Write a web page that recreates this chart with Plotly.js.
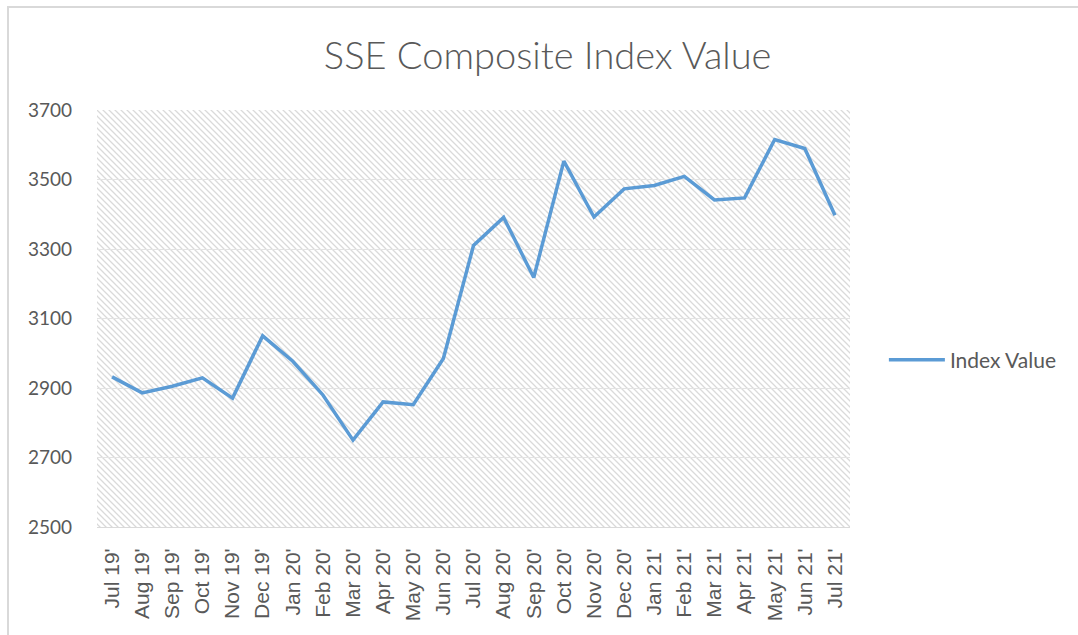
<!DOCTYPE html>
<html>
<head>
<meta charset="utf-8">
<script src="https://cdn.plot.ly/plotly-3.0.1.min.js"></script>
<style>
  html, body { margin: 0; padding: 0; background: #ffffff; }
  #wrap { position: relative; width: 1078px; height: 635px; overflow: hidden; }
  #frame { position: absolute; left: 7px; top: 6px; width: 1100px; height: 700px;
           border-top: 2px solid #d9d9d9; border-left: 2px solid #d9d9d9; pointer-events: none; z-index: 5; }
  #chart { position: absolute; left: 0; top: 0; width: 1078px; height: 635px; }
</style>
</head>
<body>
<div id="wrap">
  <div id="chart"></div>
  <div id="frame"></div>
</div>
<script>
const months = ["Jul 19'", "Aug 19'", "Sep 19'", "Oct 19'", "Nov 19'", "Dec 19'",
  "Jan 20'", "Feb 20'", "Mar 20'", "Apr 20'", "May 20'", "Jun 20'",
  "Jul 20'", "Aug 20'", "Sep 20'", "Oct 20'", "Nov 20'", "Dec 20'",
  "Jan 21'", "Feb 21'", "Mar 21'", "Apr 21'", "May 21'", "Jun 21'", "Jul 21'"];
const indexValues = [2932, 2886, 2905, 2929, 2871, 3050,
  2977, 2880, 2750, 2860, 2852, 2985,
  3310, 3391, 3218, 3553, 3392, 3473,
  3483, 3509, 3441, 3447, 3615, 3589, 3397];
const yTicks = [2500, 2700, 2900, 3100, 3300, 3500, 3700];

const hatch = 'data:image/svg+xml;utf8,' + encodeURIComponent(
  '<svg xmlns="http://www.w3.org/2000/svg" width="753" height="417" viewBox="0 0 753 417">' +
  '<defs><pattern id="h" patternUnits="userSpaceOnUse" width="6" height="6">' +
  '<path d="M-1,-1 L7,7 M-1,5 L1,7 M5,-1 L7,1" stroke="#dadada" stroke-width="1.3"/>' +
  '</pattern></defs><rect width="753" height="417" fill="url(#h)"/></svg>');

const trace = {
  type: 'scatter', mode: 'lines', name: 'Index Value',
  x: months, y: indexValues,
  line: { color: '#5b9bd5', width: 3.5 }
};

const layout = {
  width: 1078, height: 635,
  margin: { l: 97, r: 228, t: 110, b: 108 },
  paper_bgcolor: 'rgba(0,0,0,0)', plot_bgcolor: 'rgba(0,0,0,0)',
  title: { text: 'SSE Composite Index Value', x: 0.508, xanchor: 'center', y: 0.913, yanchor: 'middle',
           font: { family: 'Lato', size: 38, weight: 300, color: '#595959' } },
  xaxis: {
    type: 'category', range: [-0.5, months.length - 0.5],
    showgrid: false, showline: true, linecolor: '#d9d9d9', linewidth: 1,
    ticks: '', tickangle: -90, ticklabelstandoff: 12,
    tickfont: { family: 'Liberation Sans', size: 21, color: '#595959' }
  },
  yaxis: {
    range: [2500, 3700], tickvals: yTicks, ticktext: yTicks.map(String),
    showgrid: true, gridcolor: '#e3e3e3', gridwidth: 1, zeroline: false, showline: false,
    ticks: '', ticklabelstandoff: 24,
    tickfont: { family: 'Lato', size: 19, color: '#595959' }
  },
  showlegend: true,
  legend: { x: 1.045, xanchor: 'left', y: 0.40, yanchor: 'middle', itemwidth: 56,
            font: { family: 'Lato', size: 21, color: '#595959' }, bgcolor: 'rgba(0,0,0,0)' },
  images: [{ source: hatch, xref: 'paper', yref: 'paper', x: 0, y: 1, sizex: 1, sizey: 1,
             xanchor: 'left', yanchor: 'top', sizing: 'stretch', layer: 'below' }]
};

Plotly.newPlot('chart', [trace], layout, { displayModeBar: false, staticPlot: true });
</script>
</body>
</html>
